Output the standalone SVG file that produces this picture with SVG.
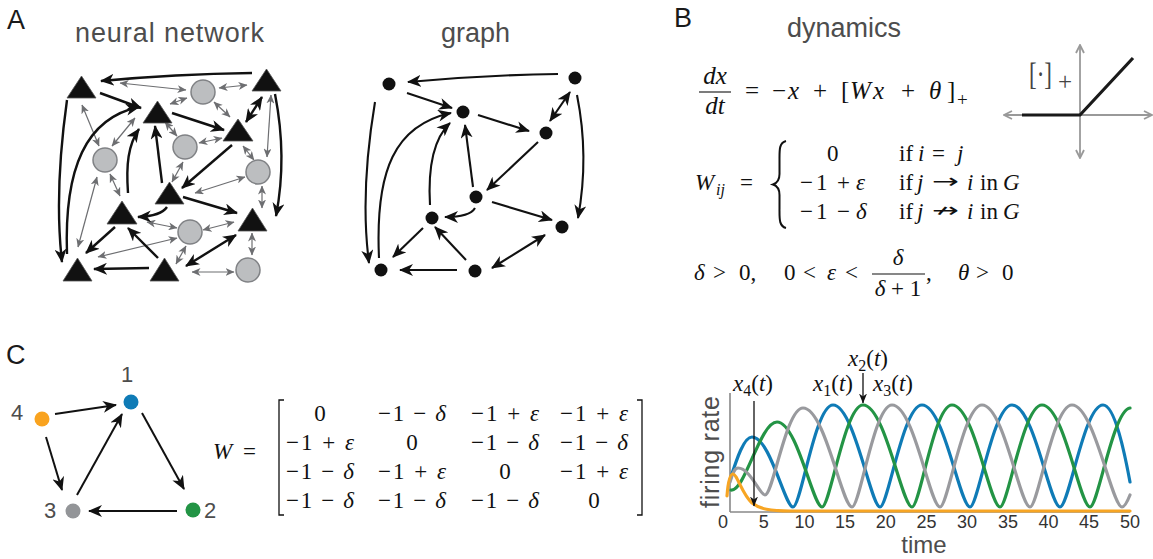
<svg xmlns="http://www.w3.org/2000/svg" width="1153" height="559" viewBox="0 0 1153 559">
<style>
.lbl{font-family:"Liberation Sans",Arial,sans-serif;fill:#1a1a1a;font-size:27px}
.hd{font-family:"Liberation Sans",Arial,sans-serif;fill:#4d4d4d;font-size:27px}
.m{font-family:"Liberation Serif","DejaVu Serif",serif;fill:#111;font-size:23px}
.ar{font-family:"DejaVu Sans","Liberation Sans",sans-serif;fill:#111;font-size:20px}
.i{font-style:italic}
.tri{fill:#111;stroke:#555;stroke-width:0.8}
.cir{fill:#bcbec0;stroke:#808285;stroke-width:1.5}
.bk{fill:none;stroke:#111;stroke-width:2.4;marker-end:url(#ah)}
.bk2{fill:none;stroke:#111;stroke-width:2.4;marker-end:url(#ah);marker-start:url(#ah)}
.gr{fill:none;stroke:#6d6e71;stroke-width:1.2;marker-end:url(#gh);marker-start:url(#gh)}
.gn{fill:#111}
.ge{fill:none;stroke:#111;stroke-width:2.1;marker-end:url(#ah)}
.ge2{fill:none;stroke:#111;stroke-width:2.1;marker-end:url(#ah);marker-start:url(#ah)}
.ce{fill:none;stroke:#111;stroke-width:2;marker-end:url(#ah)}
.nl{font-family:"Liberation Sans",Arial,sans-serif;fill:#4d4d4d;font-size:22px}
.tk{font-family:"Liberation Sans",Arial,sans-serif;fill:#333;font-size:18px;text-anchor:middle}
.cv{fill:none;stroke-width:3.2;stroke-linecap:round}
</style>
<defs>
<marker id="ah" viewBox="0 0 14 12" refX="13" refY="6" markerWidth="14" markerHeight="12" markerUnits="userSpaceOnUse" orient="auto-start-reverse"><path d="M0,0 L14,6 L0,12 L4,6 z" fill="#111"/></marker>
<marker id="gh" viewBox="0 0 9 8" refX="8.5" refY="4" markerWidth="9" markerHeight="8" markerUnits="userSpaceOnUse" orient="auto-start-reverse"><path d="M0,0 L9,4 L0,8 L2.5,4 z" fill="#6d6e71"/></marker>
<marker id="sh" viewBox="0 0 10 8" refX="9.5" refY="4" markerWidth="10" markerHeight="8" markerUnits="userSpaceOnUse" orient="auto"><path d="M0,0 L10,4 L0,8 L3,4 z" fill="#111"/></marker>
<marker id="ga" viewBox="0 0 10 10" refX="9" refY="5" markerWidth="10" markerHeight="10" markerUnits="userSpaceOnUse" orient="auto-start-reverse"><path d="M1,1 L9,5 L1,9" fill="none" stroke="#999" stroke-width="1.8"/></marker>
</defs>

<!-- headings -->
<g id="headings">
<text class="lbl" x="7" y="29">A</text>
<text class="hd" x="75" y="42" textLength="189">neural network</text>
<text class="hd" x="441" y="42">graph</text>
<text class="lbl" x="674" y="27">B</text>
<text class="hd" x="787" y="37">dynamics</text>
<text class="lbl" x="6" y="364">C</text>
</g>

<!-- Panel A: neural network -->
<g id="nn-connectors">
<path class="gr" d="M120,83 L186,90"/>
<path class="gr" d="M219,88 L247,85"/>
<path class="gr" d="M170,104 L187,98"/>
<path class="gr" d="M214,102 L230,117"/>
<path class="gr" d="M82,105 L99,146"/>
<path class="gr" d="M112,146 L135,118"/>
<path class="gr" d="M165,122 L177,136"/>
<path class="gr" d="M199,143 L222,138"/>
<path class="gr" d="M271,95 L267,157"/>
<path class="gr" d="M243,146 L254,160"/>
<path class="gr" d="M183,162 L172,182"/>
<path class="gr" d="M110,174 L120,196"/>
<path class="gr" d="M245,177 L195,193"/>
<path class="gr" d="M262,186 L262,208"/>
<path class="gr" d="M97,177 L78,247"/>
<path class="gr" d="M147,222 L177,228"/>
<path class="gr" d="M203,230 L234,222"/>
<path class="gr" d="M177,238 L98,257"/>
<path class="gr" d="M186,246 L176,264"/>
<path class="gr" d="M252,233 L252,255"/>
<path class="gr" d="M192,272 L234,272"/>
<path class="bk" d="M252,73 Q175,74 101,81"/>
<path class="bk" d="M100,93 L141,108"/>
<path class="bk" d="M172,113 L224,130"/>
<path class="bk2" d="M262,97 L246,122"/>
<path class="bk" d="M275,94 C284,140 283,180 276,216"/>
<path class="bk" d="M67,100 C60,150 56,210 62,262"/>
<path class="bk" d="M67,254 C64,168 86,118 139,107"/>
<path class="bk" d="M128,193 C126,165 128,145 139,129"/>
<path class="bk" d="M162,183 L155,126"/>
<path class="bk" d="M232,145 L182,188"/>
<path class="bk" d="M183,197 L237,213"/>
<path class="bk" d="M167,207 Q161,216 138,217"/>
<path class="bk" d="M115,227 L86,253"/>
<path class="bk" d="M158,258 L128,228"/>
<path class="bk" d="M149,268 L94,269"/>
<path class="bk2" d="M186,266 L236,235"/>
</g>
<g id="nn-t1"><polygon class="tri" points="67,98 96,98 81.5,76"/></g>
<g id="nn-t2"><polygon class="tri" points="252,91 281,91 266.5,69"/></g>
<g id="nn-t3"><polygon class="tri" points="143,123 172,123 157.5,101"/></g>
<g id="nn-t4"><polygon class="tri" points="223,141 253,141 238,119"/></g>
<g id="nn-t5"><polygon class="tri" points="155,204 184,204 169.5,182"/></g>
<g id="nn-t6"><polygon class="tri" points="107,224 137,224 122,201"/></g>
<g id="nn-t7"><polygon class="tri" points="238,231 267,231 252.5,208"/></g>
<g id="nn-t8"><polygon class="tri" points="63,281 92,281 77.5,258"/></g>
<g id="nn-t9"><polygon class="tri" points="150,281 179,281 164.5,258"/></g>
<g id="nn-c1"><circle class="cir" cx="203" cy="92" r="12"/></g>
<g id="nn-c2"><circle class="cir" cx="105" cy="160" r="12"/></g>
<g id="nn-c3"><circle class="cir" cx="185" cy="147" r="12"/></g>
<g id="nn-c4"><circle class="cir" cx="258" cy="172" r="12"/></g>
<g id="nn-c5"><circle class="cir" cx="190" cy="232" r="12"/></g>
<g id="nn-c6"><circle class="cir" cx="248" cy="270" r="12"/></g>

<!-- Panel A: graph -->
<g id="graph-connectors">
<path class="ge" d="M558,74 Q485,75 408,82"/>
<path class="ge" d="M407,93 L452,108"/>
<path class="ge" d="M478,115 L529,131"/>
<path class="ge2" d="M570,92 L550,121"/>
<path class="ge" d="M577,95 C586,140 585,180 578,218"/>
<path class="ge" d="M375,102 C367,150 362,210 369,263"/>
<path class="ge" d="M379,258 C375,170 395,125 451,113"/>
<path class="ge" d="M430,205 C428,170 432,140 450,123"/>
<path class="ge" d="M473,187 L465,125"/>
<path class="ge" d="M538,142 L487,190"/>
<path class="ge" d="M492,202 L552,220"/>
<path class="ge" d="M475,208 Q470,217 445,217"/>
<path class="ge" d="M423,228 L393,257"/>
<path class="ge" d="M466,260 L435,227"/>
<path class="ge" d="M457,270 L400,270"/>
<path class="ge2" d="M492,268 L545,235"/>
</g>
<g id="g-n1"><circle class="gn" cx="389" cy="84" r="6.5"/></g>
<g id="g-n2"><circle class="gn" cx="575" cy="78" r="6.5"/></g>
<g id="g-n3"><circle class="gn" cx="463" cy="112" r="6.5"/></g>
<g id="g-n4"><circle class="gn" cx="546" cy="133" r="6.5"/></g>
<g id="g-n5"><circle class="gn" cx="476" cy="197" r="6.5"/></g>
<g id="g-n6"><circle class="gn" cx="432" cy="218" r="6.5"/></g>
<g id="g-n7"><circle class="gn" cx="562" cy="227" r="6.5"/></g>
<g id="g-n8"><circle class="gn" cx="381" cy="270" r="6.5"/></g>
<g id="g-n9"><circle class="gn" cx="475" cy="271" r="6.5"/></g>

<!-- Panel B: equations -->
<g id="eq-dynamics">
<text class="m i" x="715" y="84" text-anchor="middle" style="font-size:25px">dx</text>
<line x1="699" y1="92" x2="731" y2="92" stroke="#111" stroke-width="1.1"/>
<text class="m i" x="715" y="114" text-anchor="middle" style="font-size:25px">dt</text>
<text class="m" y="99" style="font-size:25px"><tspan x="745">=</tspan><tspan x="772">−</tspan><tspan x="788" class="i">x</tspan><tspan x="813">+</tspan><tspan x="841">[</tspan><tspan x="850" class="i">W</tspan><tspan x="873" class="i">x</tspan><tspan x="901">+</tspan><tspan x="929" class="i">θ</tspan><tspan x="947">]</tspan></text>
<text class="m" x="957" y="106" style="font-size:19px">+</text>
</g>
<g id="eq-weights">
<text class="m" y="190"><tspan x="695" class="i">W</tspan><tspan x="716" y="195" font-size="16" class="i">ij</tspan><tspan x="740" y="190">=</tspan></text>
<path d="M786,141 C779,143 779.5,150 779.5,160 L779.5,174 C779.5,180 777.5,183 773,184.5 C777.5,186 779.5,189 779.5,195 L779.5,209 C779.5,219 779,226 786,228" fill="none" stroke="#111" stroke-width="2"/>
<text class="m" y="161"><tspan x="827">0</tspan><tspan x="899">if</tspan><tspan x="918" class="i">i</tspan><tspan x="932">=</tspan><tspan x="957" class="i">j</tspan></text>
<text class="m" y="190"><tspan x="800">−</tspan><tspan x="816">1</tspan><tspan x="837">+</tspan><tspan x="856" class="i">ε</tspan><tspan x="899">if</tspan><tspan x="917" class="i">j</tspan><tspan x="967" class="i">i</tspan><tspan x="980">in</tspan><tspan x="1003" class="i">G</tspan></text>
<text class="ar" x="932" y="188" textLength="27" lengthAdjust="spacingAndGlyphs">→</text>
<text class="m" y="219"><tspan x="800">−</tspan><tspan x="816">1</tspan><tspan x="837">−</tspan><tspan x="856" class="i">δ</tspan><tspan x="899">if</tspan><tspan x="917" class="i">j</tspan><tspan x="967" class="i">i</tspan><tspan x="980">in</tspan><tspan x="1003" class="i">G</tspan></text>
<text class="ar" x="932" y="217" textLength="27" lengthAdjust="spacingAndGlyphs">↛</text>
</g>
<g id="eq-conditions">
<text class="m" y="280"><tspan x="694" class="i">δ</tspan><tspan x="713">&gt;</tspan><tspan x="739">0,</tspan><tspan x="784">0</tspan><tspan x="803">&lt;</tspan><tspan x="827" class="i">ε</tspan><tspan x="845">&lt;</tspan><tspan x="926">,</tspan><tspan x="958" class="i">θ</tspan><tspan x="976">&gt;</tspan><tspan x="1002">0</tspan></text>
<text class="m i" x="898" y="265" text-anchor="middle">δ</text>
<line x1="872" y1="274" x2="925" y2="274" stroke="#111" stroke-width="1.1"/>
<text class="m" x="898" y="296" text-anchor="middle"><tspan class="i">δ</tspan> + 1</text>
</g>
<g id="relu">
<line x1="1004" y1="115" x2="1152" y2="115" stroke="#999" stroke-width="1.8" marker-start="url(#ga)" marker-end="url(#ga)"/>
<line x1="1080" y1="45" x2="1080" y2="158" stroke="#999" stroke-width="1.8" marker-start="url(#ga)" marker-end="url(#ga)"/>
<path d="M1022,115 L1080,115 L1133,58" fill="none" stroke="#1a1a1a" stroke-width="3.2"/>
<text class="m" x="1029" y="85" style="font-size:31px;fill:#444" textLength="23" lengthAdjust="spacingAndGlyphs">[·]</text>
<text class="m" x="1058" y="90" style="font-size:25px;fill:#444">+</text>
</g>

<!-- Panel C: graph -->
<g id="c-connectors">
<path class="ce" d="M55,414 L116,405"/>
<path class="ce" d="M46,437 L62,490"/>
<path class="ce" d="M77,495 L122,414"/>
<path class="ce" d="M142,413 L184,489"/>
<path class="ce" d="M177,511 L89,511"/>
</g>
<g id="c-n1"><circle cx="131" cy="402" r="7.5" fill="#0f7bb6"/><text class="nl" x="121" y="382">1</text></g>
<g id="c-n2"><circle cx="193" cy="510" r="7.5" fill="#239445"/><text class="nl" x="204" y="518">2</text></g>
<g id="c-n3"><circle cx="73" cy="511" r="7.5" fill="#939598"/><text class="nl" x="44" y="518">3</text></g>
<g id="c-n4"><circle cx="42" cy="419" r="7.5" fill="#f9a31f"/><text class="nl" x="11" y="420">4</text></g>

<!-- Panel C: matrix -->
<g id="matrix">
<text class="m" y="459"><tspan x="213" class="i">W</tspan><tspan x="243">=</tspan></text>
<path d="M284,400 L279,400 L279,515 L284,515" fill="none" stroke="#111" stroke-width="1.3"/>
<path d="M637,400 L642,400 L642,515 L637,515" fill="none" stroke="#111" stroke-width="1.3"/>
<g text-anchor="middle">
<text class="m" x="320" y="421">0</text>
<text class="m" x="412" y="421" textLength="68">−1 − <tspan class="i">δ</tspan></text>
<text class="m" x="505" y="421" textLength="68">−1 + <tspan class="i">ε</tspan></text>
<text class="m" x="594" y="421" textLength="68">−1 + <tspan class="i">ε</tspan></text>
<text class="m" x="320" y="450" textLength="68">−1 + <tspan class="i">ε</tspan></text>
<text class="m" x="412" y="450">0</text>
<text class="m" x="505" y="450" textLength="68">−1 − <tspan class="i">δ</tspan></text>
<text class="m" x="594" y="450" textLength="68">−1 − <tspan class="i">δ</tspan></text>
<text class="m" x="320" y="479" textLength="68">−1 − <tspan class="i">δ</tspan></text>
<text class="m" x="412" y="479" textLength="68">−1 + <tspan class="i">ε</tspan></text>
<text class="m" x="505" y="479">0</text>
<text class="m" x="594" y="479" textLength="68">−1 + <tspan class="i">ε</tspan></text>
<text class="m" x="320" y="508" textLength="68">−1 − <tspan class="i">δ</tspan></text>
<text class="m" x="412" y="508" textLength="68">−1 − <tspan class="i">δ</tspan></text>
<text class="m" x="505" y="508" textLength="68">−1 − <tspan class="i">δ</tspan></text>
<text class="m" x="594" y="508">0</text>
</g>
</g>

<!-- Panel C: plot -->
<g id="plot">
<line x1="730" y1="393" x2="730" y2="512" stroke="#888" stroke-width="1.6"/>
<line x1="730" y1="512" x2="1130" y2="512" stroke="#888" stroke-width="1.6"/>
<path class="cv" stroke="#0f7bb6" d="M730,480 C737,458 744,437 752,437 C770,437 785,507 793,507 C801,507 815,405 833,405 C854,405 871,507 880,507 C888,507 903,405 922,405 C944,405 960,507 970,507 C978,507 993,405 1012,405 C1034,405 1050,507 1060,507 C1069,507 1084,405 1103,405 C1115,405 1125,455 1130,482"/>
<path class="cv" stroke="#239445" d="M731,490 C745,492 760,422 777,422 C797,422 813,507 822,507 C830,507 845,405 863,405 C885,405 902,507 912,507 C920,507 934,405 952,405 C974,405 990,507 1000,507 C1008,507 1023,405 1042,405 C1064,405 1080,507 1090,507 C1098,507 1113,410 1130,408"/>
<path class="cv" stroke="#999a9e" d="M730,482 C733,472 735,468 738,468 C750,468 760,495 765,495 C773,495 786,408 803,408 C825,408 842,507 852,507 C860,507 874,405 892,405 C914,405 930,507 940,507 C948,507 963,405 982,405 C1004,405 1020,507 1030,507 C1038,507 1053,405 1072,405 C1094,405 1112,507 1122,507 C1125,507 1128,500 1130,495"/>
<path class="cv" stroke="#f7a523" d="M727,496 C728,482 730,474 733,474 C737,474 742,494 752,503 C760,509 770,511 790,511 L1130,511"/>
<line x1="754" y1="401" x2="754" y2="506" stroke="#111" stroke-width="1.3" marker-end="url(#sh)"/>
<line x1="863" y1="373" x2="863" y2="403" stroke="#111" stroke-width="1.3" marker-end="url(#sh)"/>
<text class="m" y="391"><tspan x="733" class="i">x</tspan><tspan dy="5" font-size="16">4</tspan><tspan dy="-5">(</tspan><tspan class="i">t</tspan><tspan>)</tspan></text>
<text class="m" y="391"><tspan x="813" class="i">x</tspan><tspan dy="5" font-size="16">1</tspan><tspan dy="-5">(</tspan><tspan class="i">t</tspan><tspan>)</tspan></text>
<text class="m" y="391"><tspan x="873" class="i">x</tspan><tspan dy="5" font-size="16">3</tspan><tspan dy="-5">(</tspan><tspan class="i">t</tspan><tspan>)</tspan></text>
<text class="m" y="366"><tspan x="848" class="i">x</tspan><tspan dy="5" font-size="16">2</tspan><tspan dy="-5">(</tspan><tspan class="i">t</tspan><tspan>)</tspan></text>
<text class="tk" y="528"><tspan x="723">0</tspan><tspan x="763.7">5</tspan><tspan x="804.4">10</tspan><tspan x="845">15</tspan><tspan x="885.8">20</tspan><tspan x="926.5">25</tspan><tspan x="967">30</tspan><tspan x="1008">35</tspan><tspan x="1048.6">40</tspan><tspan x="1089">45</tspan><tspan x="1130">50</tspan></text>
<text class="hd" x="924" y="553" text-anchor="middle" style="font-size:24px">time</text>
<text class="hd" transform="translate(719,452) rotate(-90)" text-anchor="middle" style="font-size:25px" textLength="112">firing rate</text>
</g>
</svg>
